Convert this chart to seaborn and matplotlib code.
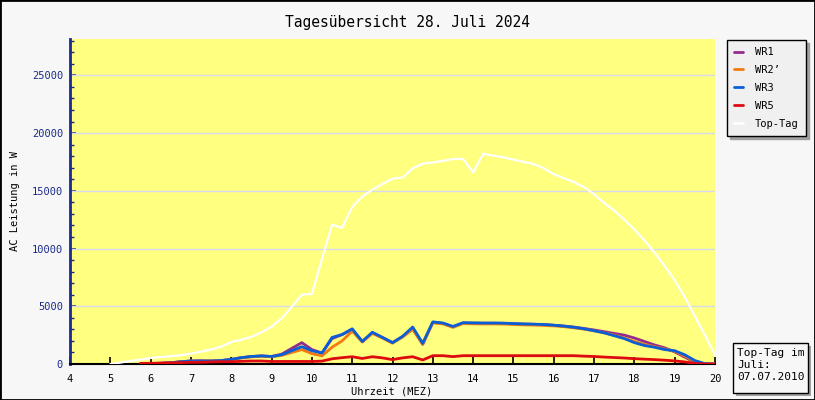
import matplotlib
matplotlib.use("Agg")
import matplotlib.pyplot as plt
from matplotlib.patches import Rectangle
from matplotlib.lines import Line2D
from matplotlib.ticker import MultipleLocator
import seaborn as sns
import pandas as pd

# ---------------- data ----------------
wr_hours = [5.75, 6.0, 6.25, 6.5, 6.75, 7.0, 7.25, 7.5, 7.75, 8.0, 8.25, 8.5, 8.75,
            9.0, 9.25, 9.5, 9.75, 10.0, 10.25, 10.5, 10.75, 11.0, 11.25, 11.5, 11.75,
            12.0, 12.25, 12.5, 12.75, 13.0, 13.25, 13.5, 13.75, 14.0, 14.25, 14.5,
            14.75, 15.0, 15.25, 15.5, 15.75, 16.0, 16.25, 16.5, 16.75, 17.0, 17.25,
            17.5, 17.75, 18.0, 18.25, 18.5, 18.75, 19.0, 19.25, 19.5, 19.75, 20.0]

wr1 = [20, 40, 60, 100, 200, 260, 280, 260, 300, 400, 550, 650, 700,
       650, 850, 1350, 1850, 1250, 950, 2200, 2550, 3000, 1950, 2700, 2300,
       1850, 2350, 3050, 1700, 3600, 3520, 3230, 3550, 3540, 3530, 3530,
       3520, 3490, 3460, 3440, 3410, 3360, 3290, 3200, 3080, 2950, 2800,
       2650, 2500, 2250, 1950, 1650, 1400, 1050, 600, 150, 0, 0]

wr2 = [20, 40, 60, 100, 200, 250, 250, 250, 290, 380, 520, 620, 680,
       620, 750, 1000, 1250, 900, 700, 1450, 2000, 2850, 1900, 2650, 2250,
       1800, 2350, 3000, 1750, 3570, 3470, 3170, 3500, 3480, 3470, 3470,
       3460, 3420, 3390, 3370, 3340, 3300, 3230, 3130, 3020, 2880, 2700,
       2500, 2250, 1950, 1700, 1500, 1300, 1100, 700, 200, 0, 0]

wr3 = [20, 40, 60, 100, 200, 260, 260, 260, 300, 400, 550, 650, 700,
       650, 800, 1150, 1500, 1150, 950, 2300, 2550, 3050, 1950, 2750, 2300,
       1850, 2400, 3200, 1800, 3650, 3550, 3250, 3580, 3560, 3550, 3550,
       3540, 3500, 3470, 3450, 3420, 3360, 3280, 3180, 3050, 2880, 2700,
       2450, 2200, 1850, 1600, 1450, 1250, 1150, 800, 300, 30, 0]

wr5 = [50, 60, 80, 100, 120, 150, 150, 180, 200, 200, 230, 260, 260,
       220, 220, 220, 220, 220, 250, 450, 550, 630, 480, 630, 530,
       380, 530, 630, 350, 720, 720, 640, 720, 720, 720, 720,
       720, 720, 720, 720, 720, 720, 720, 720, 680, 650, 600,
       560, 520, 460, 420, 380, 330, 270, 180, 50, 0, 0]

top_hours = [5.0, 5.25, 5.5, 5.75, 6.0, 6.25, 6.5, 6.75, 7.0, 7.25, 7.5, 7.75,
             8.0, 8.25, 8.5, 8.75, 9.0, 9.25, 9.5, 9.75, 10.0, 10.25, 10.5, 10.75,
             11.0, 11.25, 11.5, 11.75, 12.0, 12.25, 12.5, 12.75, 13.0, 13.25, 13.5,
             13.75, 14.0, 14.25, 14.5, 14.75, 15.0, 15.25, 15.5, 15.75, 16.0, 16.25,
             16.5, 16.75, 17.0, 17.25, 17.5, 17.75, 18.0, 18.25, 18.5, 18.75, 19.0,
             19.25, 19.5, 19.75, 20.0]
top_tag = [0, 120, 260, 380, 520, 600, 680, 760, 900, 1070, 1250, 1500,
           1900, 2100, 2350, 2750, 3230, 3950, 4950, 6000, 6070, 9100, 12050, 11800,
           13600, 14500, 15100, 15600, 16050, 16150, 16950, 17350, 17450, 17600, 17750,
           17760, 16600, 18200, 18050, 17900, 17700, 17500, 17330, 16950, 16450, 16100,
           15750, 15330, 14700, 13950, 13300, 12500, 11650, 10700, 9650, 8500, 7250,
           5800, 4150, 2500, 780]

series_names = ["WR1", "WR2\u2019", "WR3", "WR5", "Top-Tag"]
series_colors = ["#932b8e", "#f47a10", "#0a5fd6", "#dd0a10", "#ffffff"]

y_ticks = [0, 5000, 10000, 15000, 20000, 25000]
x_ticks = list(range(4, 21))

title_text = "Tagesübersicht 28. Juli 2024"
xlabel_text = "Uhrzeit (MEZ)"
ylabel_text = "AC Leistung in W"
note_text = "Top-Tag im\nJuli:\n07.07.2010"

# ---------------- figure ----------------
sns.set_theme(style="white")
plt.rcParams["font.family"] = ["DejaVu Sans Mono", "DejaVu Sans"]

W, H = 815, 400
fig = plt.figure(figsize=(W / 100, H / 100), dpi=100, facecolor="#f7f7f7")
ax = fig.add_axes([70 / W, 36 / H, 645 / W, 325 / H])
ax.set_facecolor("#ffff80")

for y in y_ticks[1:]:
    ax.axhline(y, color="#d8d8ee", lw=1.0, zorder=1)

df_top = pd.DataFrame({"h": top_hours, "v": top_tag})
sns.lineplot(data=df_top, x="h", y="v", ax=ax, color=series_colors[4], lw=1.6, zorder=3)

for vals, col in zip([wr1, wr2, wr3, wr5], series_colors[:4]):
    d = pd.DataFrame({"h": wr_hours, "v": vals})
    sns.lineplot(data=d, x="h", y="v", ax=ax, color=col, lw=2.0, zorder=4)

ax.set_xlim(4, 20)
ax.set_ylim(0, 28150)
ax.set_xticks(x_ticks)
ax.set_yticks(y_ticks)
ax.yaxis.set_minor_locator(MultipleLocator(1000))

for s in ["top", "right"]:
    ax.spines[s].set_visible(False)
ax.spines["left"].set_color("#1a2a8a")
ax.spines["left"].set_linewidth(2.0)
ax.spines["bottom"].set_color("black")
ax.spines["bottom"].set_linewidth(1.5)

ax.tick_params(axis="x", direction="in", length=5, width=1.2, colors="black",
               labelsize=7.5, pad=7, bottom=True)
ax.tick_params(axis="y", which="major", direction="in", length=4, width=1.2,
               colors="#1a2a8a", labelsize=7.5, pad=5, left=True)
ax.tick_params(axis="y", which="minor", direction="in", length=3, width=1.0,
               colors="#1a2a8a", left=True)
for lab in ax.get_yticklabels():
    lab.set_color("#1a2a8a")

ax.set_xlabel("")
ax.set_ylabel("")
fig.text(392 / W, 1 - 392 / H, xlabel_text, ha="center", va="center",
         fontsize=7.5, color="black")
fig.text(15 / W, 1 - 201 / H, ylabel_text, ha="center", va="center",
         rotation=90, fontsize=7.5, color="black")
fig.text(0.5, 1 - 22 / H, title_text, ha="center", va="center",
         fontsize=10.5, color="black")

# legend with shadow
handles = [Line2D([0], [0], color=c, lw=2.0) for c in series_colors]
leg = fig.legend(handles, series_names, loc="upper left",
                 bbox_to_anchor=(727 / W, 1 - 40 / H), frameon=True,
                 fancybox=False, shadow={"color": "#a0a0a0", "alpha": 1.0},
                 facecolor="#f0f0f0", edgecolor="black", fontsize=7.5,
                 handlelength=0.8, handletextpad=1.2, labelspacing=0.75,
                 borderpad=0.7, borderaxespad=0)
leg.get_frame().set_linewidth(1.0)
for t in leg.get_texts():
    t.set_color("black")

# note box with shadow
bx0, by0, bw, bh = 733, 343, 75, 50
fig.add_artist(Rectangle(((bx0 + 3) / W, 1 - (by0 + bh + 3) / H), bw / W, bh / H,
                         transform=fig.transFigure, facecolor="#a0a0a0",
                         edgecolor="none", zorder=5))
fig.add_artist(Rectangle((bx0 / W, 1 - (by0 + bh) / H), bw / W, bh / H,
                         transform=fig.transFigure, facecolor="#f7f7f7",
                         edgecolor="black", lw=1.0, zorder=6))
fig.text((bx0 + 4) / W, 1 - (by0 + 5) / H, note_text, ha="left", va="top",
         fontsize=8, color="black", linespacing=1.25, zorder=7)

# figure border
fig.add_artist(Rectangle((0, 0), 1, 1, transform=fig.transFigure, fill=False,
                         edgecolor="black", lw=2, zorder=10))

fig.savefig("out.png", dpi=100, facecolor=fig.get_facecolor())
